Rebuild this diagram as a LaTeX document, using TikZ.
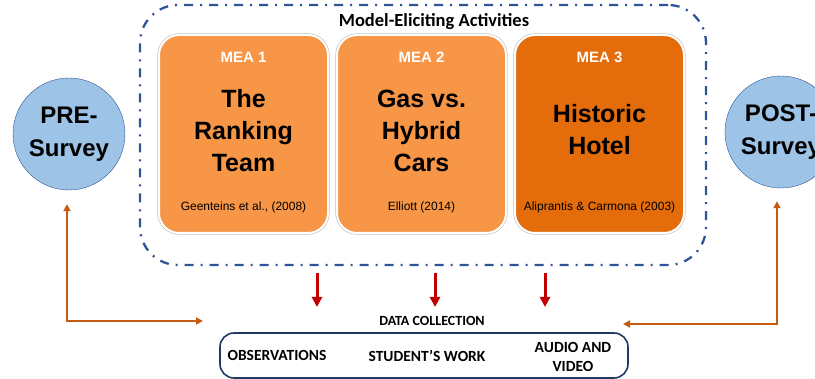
\documentclass[tikz,border=0pt]{standalone}
\usepackage{fontspec}
\setmainfont{Liberation Sans}
\newfontfamily\calib{Carlito}
\usepackage{tikz}
\usetikzlibrary{arrows,arrows.meta,positioning}

\definecolor{meaorange}{HTML}{F79646}
\definecolor{meadark}{HTML}{E46C0A}
\definecolor{surveyblue}{HTML}{9DC3E6}
\definecolor{ringblue}{HTML}{2F5597}
\definecolor{linkorange}{HTML}{C55A11}
\definecolor{datared}{HTML}{C00000}
\definecolor{navy}{HTML}{1F3864}

\begin{document}
\begin{tikzpicture}[x=1pt,y=-1pt,semithick,
    mea/.style={rectangle,rounded corners=20pt,minimum width=169pt,minimum height=198pt,
                fill=meaorange,draw=white,line width=2pt,
                preaction={draw=black!25,line width=3.2pt}},
    meahead/.style={text=white,font=\fontsize{15}{18}\selectfont\bfseries},
    meatitle/.style={align=center,font=\fontsize{25}{32}\selectfont\bfseries},
    meacite/.style={font=\fontsize{12}{14}\selectfont},
    survey/.style={circle,minimum size=112pt,inner sep=0pt,fill=surveyblue,draw=ringblue,
                   thin,align=center,font=\fontsize{24}{33}\selectfont\bfseries},
    mebox/.style={rectangle,rounded corners=38pt,minimum width=566pt,minimum height=260pt,
                  draw=ringblue,line width=2.3pt,dash pattern=on 9pt off 7pt on 2pt off 7pt},
    metitle/.style={font=\calib\fontsize{18.5}{22}\selectfont\bfseries},
    databox/.style={rectangle,rounded corners=14pt,minimum width=408pt,minimum height=45pt,
                    draw=navy,line width=1.6pt},
    datatext/.style={align=center,font=\calib\fontsize{15.5}{19}\selectfont\bfseries},
    link/.style={draw=linkorange,line width=2pt,<->,>={Triangle[width=7pt,length=7pt]}},
    collect/.style={draw=datared,line width=3pt,->,>={Triangle[width=10pt,length=10pt]}}]
  \useasboundingbox (0,0) rectangle (815,379);

  \node[mebox] (mebox) at (423,135) {};
  \node[metitle] (metitle) at (434,22) {Model-Eliciting Activities};

  \node[mea]                             (mea1) at (243.5,134) {};
  \node[mea,right=7pt of mea1]              (mea2) {};
  \node[mea,right=7pt of mea2,fill=meadark] (mea3) {};

  \node[meahead] (head1) at ([yshift=-23pt]mea1.north) {MEA 1};
  \node[meahead] (head2) at ([yshift=-23pt]mea2.north) {MEA 2};
  \node[meahead] (head3) at ([yshift=-23pt]mea3.north) {MEA 3};
  \node[meatitle] (title1) at ([yshift=3pt]mea1.center) {The\\Ranking\\Team};
  \node[meatitle] (title2) at ([yshift=3pt]mea2.center) {Gas vs.\\Hybrid\\Cars};
  \node[meatitle] (title3) at ([yshift=4pt]mea3.center) {Historic\\Hotel};
  \node[meacite] (cite1) at ([yshift=27pt]mea1.south) {Geenteins et al., (2008)};
  \node[meacite] (cite2) at ([yshift=27pt]mea2.south) {Elliott (2014)};
  \node[meacite] (cite3) at ([yshift=27pt]mea3.south) {Aliprantis \& Carmona (2003)};

  \node[survey] (pre)  at (69,134)  {PRE-\\Survey};
  \node[survey] (post) at (781,132) {POST-\\Survey};

  \node[databox]  (data)      at (424,355.5) {};
  \node[datatext,font=\calib\fontsize{14}{17}\selectfont\bfseries]
                  (datalabel) at (432,321)   {DATA COLLECTION};
  \node[datatext] (obs)       at (277,355)   {OBSERVATIONS};
  \node[datatext] (work)      at (427,356)   {STUDENT’S WORK};
  \node[datatext] (av)        at (573,356.5) {AUDIO AND\\VIDEO};

  % free ends of the connectors
  \coordinate (prein)  at (203,321);
  \coordinate (postin) at (623,324);
  \coordinate (a1) at (317,307);
  \coordinate (a2) at (435,307);
  \coordinate (a3) at (545,307);

  \draw[link] ([xshift=-2pt,yshift=-14pt]pre.south) |- (prein);
  \draw[link] ([xshift=-4pt,yshift=-13pt]post.south) |- (postin);

  \draw[collect,shorten <=7pt] (a1 |- mebox.south) -- (a1);
  \draw[collect,shorten <=7pt] (a2 |- mebox.south) -- (a2);
  \draw[collect,shorten <=7pt] (a3 |- mebox.south) -- (a3);
\end{tikzpicture}
\end{document}
